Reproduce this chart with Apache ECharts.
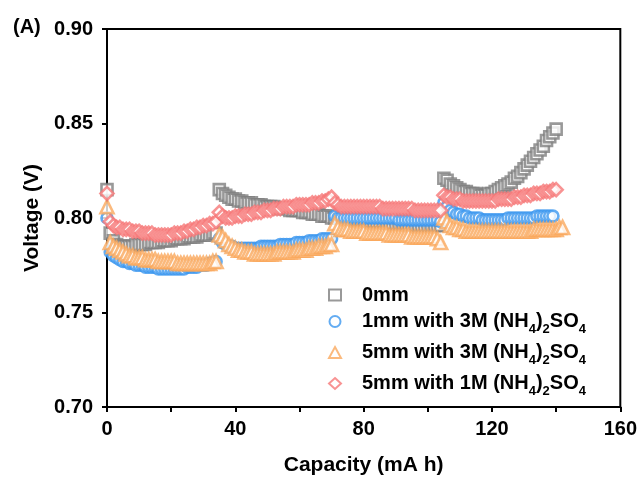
<!DOCTYPE html>
<html>
<head>
<meta charset="utf-8">
<script src="https://cdn.jsdelivr.net/npm/echarts@6/dist/echarts.min.js"></script>
<style>
  html, body { margin: 0; padding: 0; background: #fff; }
  #chart { width: 640px; height: 483px; }
</style>
</head>
<body>
<div id="chart"></div>
<script>
// capacity (mA h), one reading per step
const capacity = [
  0,1,2,3,4,5,6,7,8,9,10,11,12,13,14,15,16,17,18,19,20,21,22,23,24,25,26,27,28,29,
  30,31,32,33,34,35,36,37,38,39,40,41,42,43,44,45,46,47,48,49,50,51,52,53,54,55,56,57,58,59,
  60,61,62,63,64,65,66,67,68,69,70,71,72,73,74,75,76,77,78,79,80,81,82,83,84,85,86,87,88,89,
  90,91,92,93,94,95,96,97,98,99,100,101,102,103,104,105,106,107,108,109,110,111,112,113,114,115,116,117,118,119,
  120,121,122,123,124,125,126,127,128,129,130,131,132,133,134,135,136,137,138,139,140,141,142
];

// voltage (V)
const v0mm = [
  .815,.792,.788,.786,.785,
  .785,.785,.785,.785,.786,.786,.786,.786,.787,.787,.787,.787,.788,.788,.788,.788,.789,.789,.789,.789,.790,.790,.790,.790,.791,.791,.791,.791,.792,.792,
  .815,.813,.812,.811,.810,.810,.809,.809,.808,.808,.808,.807,.807,.807,.806,.806,.806,.806,.805,.805,.805,.805,.804,.804,.804,.804,.803,.803,.803,.802,.802,.802,.801,.801,.801,.800,
  .800,.800,.800,.800,.799,.799,.799,.799,.799,.799,.798,.798,.798,.798,.798,.798,.797,.797,.797,.797,.797,.797,.797,.796,.796,.796,.796,.796,.796,.796,.796,.796,.796,.796,
  .821,.820,.818,.817,.816,.815,.814,.814,.813,.813,.813,.812,.812,.812,.813,.813,.814,.815,.816,.817,.818,.819,.821,.822,.824,.826,.828,.830,.832,.834,.836,.838,.841,.843,.845,.847,
  null,null
];

const v1mm3M = [
  .800,.782,.780,.779,.778,.777,.777,.776,.776,.775,.775,.775,.774,.774,.774,.774,.773,.773,.773,.773,.773,.773,.773,.773,.773,.774,.774,.774,.774,.775,.775,.775,.776,.776,.777,
  .789,.787,.786,.785,.785,.784,.784,.784,.784,.784,.784,.784,.784,.785,.785,.785,.785,.785,.785,.786,.786,.786,.786,.786,.787,.787,.787,.787,.788,.788,.788,.788,.789,.789,.789,.789,
  .801,.800,.800,.800,.800,.800,.800,.800,.800,.800,.800,.800,.800,.800,.800,.800,.800,.800,.800,.800,.799,.799,.799,.799,.799,.799,.799,.799,.799,.799,.799,.799,.799,.798,
  .808,.806,.804,.803,.802,.802,.801,.801,.800,.800,.800,.800,.799,.799,.799,.799,.799,.799,.799,.799,.800,.800,.800,.800,.800,.800,.800,.800,.800,.801,.801,.801,.801,.801,.801,
  null,null,null
];

const v5mm3M = [
  .806,.787,.785,.784,.783,.782,.781,.780,.780,.779,.779,.779,.778,.778,.778,.778,.777,.777,.777,.777,.777,.777,.776,.776,.776,.776,.776,.776,.776,.776,.776,.776,.776,.777,.777,
  .791,.790,.788,.786,.785,.784,.783,.783,.782,.782,.782,.781,.781,.781,.781,.781,.781,.781,.782,.782,.782,.782,.782,.782,.783,.783,.783,.783,.784,.784,.784,.785,.785,.785,.786,.786,
  .797,.795,.794,.794,.794,.793,.793,.793,.793,.793,.792,.792,.792,.792,.792,.792,.792,.791,.791,.791,.791,.791,.791,.791,.790,.790,.790,.790,.790,.790,.790,.790,.789,.787,
  .800,.798,.796,.795,.795,.794,.794,.793,.793,.793,.793,.793,.793,.793,.793,.793,.793,.793,.793,.793,.793,.793,.793,.793,.793,.793,.793,.793,.794,.794,.794,.794,.794,.794,.794,.794,.795,.795
];

const v5mm1M = [
  .813,.798,.796,.795,.795,.794,.794,.794,.793,.793,.793,.792,.792,.792,.792,.791,.791,.791,.791,.791,.791,.792,.792,.792,.793,.793,.794,.794,.795,.795,.796,.796,.797,.797,.798,
  .803,.801,.800,.800,.800,.801,.801,.801,.802,.802,.802,.803,.803,.803,.804,.804,.804,.805,.805,.805,.806,.806,.806,.806,.807,.807,.807,.807,.807,.808,.808,.808,.809,.809,.810,.811,
  .808,.807,.806,.806,.806,.806,.806,.806,.806,.806,.806,.806,.806,.806,.806,.805,.805,.805,.805,.805,.805,.805,.805,.805,.805,.804,.804,.804,.804,.804,.804,.804,.804,.804,
  .812,.811,.811,.810,.810,.810,.809,.809,.809,.809,.809,.809,.809,.809,.809,.809,.809,.810,.810,.810,.810,.810,.811,.811,.811,.812,.812,.812,.813,.813,.813,.814,.814,.814,.815,.815,
  null,null
];

const seriesNames = [
  '0mm',
  '1mm with 3M (NH{s|4}){s|2}SO{s|4}',
  '5mm with 3M (NH{s|4}){s|2}SO{s|4}',
  '5mm with 1M (NH{s|4}){s|2}SO{s|4}'
];
const seriesValues = [v0mm, v1mm3M, v5mm3M, v5mm1M];
const colors = ['#7f7f7f', '#3c97ef', '#faa95e', '#f67878'];
const symbols = ['rect', 'circle', 'triangle', 'diamond'];
const symbolSizes = [11, 11, 13, 13];

const xTicks = { min: 0, max: 160, interval: 40 };
const yTicks = { min: 0.70, max: 0.90, interval: 0.05 };

const font = 'Arial, "Liberation Sans", sans-serif';

function pairs(vals) {
  const out = [];
  for (let i = 0; i < capacity.length; i++) {
    if (vals[i] != null) out.push([capacity[i], vals[i]]);
  }
  return out;
}

const series = seriesValues.map((vals, i) => ({
  name: seriesNames[i],
  type: 'scatter',
  symbol: symbols[i],
  symbolSize: symbolSizes[i],
  itemStyle: { color: '#fff', borderColor: colors[i], borderWidth: 2.6 },
  emphasis: { disabled: true },
  data: pairs(vals)
}));

const chart = echarts.init(document.getElementById('chart'));
chart.setOption({
  animation: false,
  backgroundColor: '#fff',
  textStyle: { fontFamily: font },
  grid: { left: 107, right: 19, top: 29, bottom: 76, show: true, borderColor: '#000', borderWidth: 2 },
  legend: {
    orient: 'vertical',
    left: 328,
    top: 285,
    padding: 0,
    itemGap: 4,
    itemWidth: 12,
    itemHeight: 11,
    selectedMode: false,
    data: seriesNames,
    itemStyle: { borderWidth: 2 },
    textStyle: {
      rich: {
        g: { width: 16 },
        b: { fontFamily: font, fontSize: 20, fontWeight: 'bold', color: '#000', lineHeight: 25 },
        s: { fontFamily: font, fontSize: 13, fontWeight: 'bold', color: '#000', lineHeight: 10, padding: [14, 0, 0, 0], verticalAlign: 'top' }
      }
    },
    formatter: name => {
      // split into plain runs and subscript runs
      return '{g|}' + name.split(/(\{s\|\d\})/).filter(p => p).map(p => p.startsWith('{s|') ? p : '{b|' + p + '}').join('');
    }
  },
  xAxis: {
    type: 'value',
    min: xTicks.min,
    max: xTicks.max,
    interval: xTicks.interval,
    name: 'Capacity (mA h)',
    nameLocation: 'middle',
    nameGap: 48,
    nameTextStyle: { fontSize: 21, fontWeight: 'bold', color: '#000', fontFamily: font },
    axisLine: { lineStyle: { color: '#000', width: 2 } },
    axisTick: { length: 5, lineStyle: { color: '#000', width: 2 } },
    minorTick: { show: true, splitNumber: 2, length: 5, lineStyle: { color: '#000', width: 2 } },
    axisLabel: { fontSize: 20, fontWeight: 'bold', color: '#000', margin: 12, fontFamily: font },
    splitLine: { show: false }
  },
  yAxis: {
    type: 'value',
    min: yTicks.min,
    max: yTicks.max,
    interval: yTicks.interval,
    name: 'Voltage (V)',
    nameLocation: 'middle',
    nameGap: 64,
    nameTextStyle: { fontSize: 21, fontWeight: 'bold', color: '#000', fontFamily: font },
    axisLine: { lineStyle: { color: '#000', width: 2 } },
    axisTick: { length: 5, lineStyle: { color: '#000', width: 2 } },
    axisLabel: { fontSize: 20, fontWeight: 'bold', color: '#000', margin: 14, fontFamily: font,
      formatter: v => v.toFixed(2) },
    splitLine: { show: false }
  },
  graphic: [{
    type: 'text',
    left: 13,
    top: 17,
    style: { text: '(A)', font: 'bold 20px ' + font, fill: '#000' }
  }],
  series: series
});
</script>
</body>
</html>
